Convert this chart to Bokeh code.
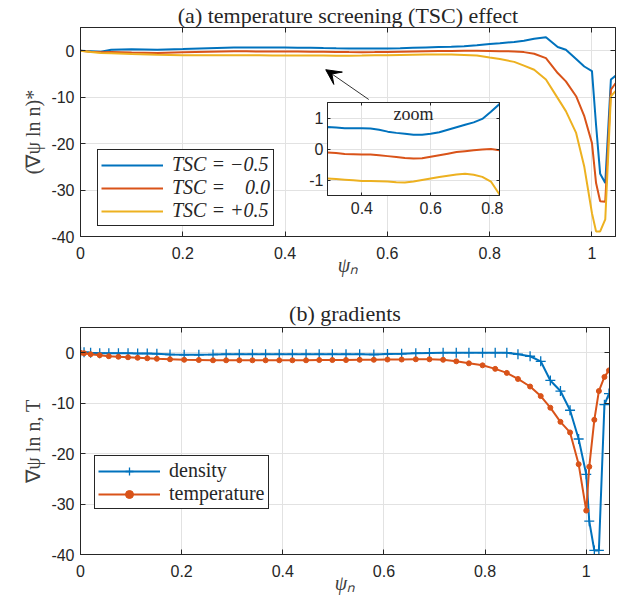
from bokeh.plotting import figure
from bokeh.layouts import column
from bokeh.models import (Range1d, LinearAxis, FixedTicker, Legend, LegendItem,
                          Arrow, VeeHead, Label)
from bokeh.embed import file_html
from bokeh.resources import INLINE

# ---------------- data ----------------
psi_a = [0, 0.02, 0.04, 0.06, 0.1, 0.15, 0.2, 0.25,
         0.3, 0.325, 0.35, 0.375, 0.4, 0.425, 0.45, 0.475, 0.5, 0.525, 0.55, 0.575,
         0.6, 0.625, 0.65, 0.675, 0.7, 0.725, 0.75, 0.775, 0.8,
         0.82, 0.848, 0.867, 0.887, 0.91, 0.933, 0.949, 0.969, 0.985,
         1.0, 1.008, 1.016, 1.026, 1.037, 1.046]
tsc_m05 = [0, -0.1, -0.2, 0.2, 0.3, 0.2, 0.35, 0.55,
           0.71, 0.69, 0.67, 0.67, 0.67, 0.66, 0.62, 0.56, 0.52, 0.49, 0.46, 0.46,
           0.49, 0.54, 0.62, 0.70, 0.78, 0.86, 0.97, 1.2, 1.45,
           1.6, 1.9, 2.15, 2.6, 2.9, 0.8, 0.2, -1.8, -3.4,
           -4.4, -16.0, -26.5, -28.5, -6.2, -5.4]
tsc_0 = [0, -0.2, -0.35, -0.3, -0.4, -0.5, -0.35, -0.2,
         -0.11, -0.13, -0.16, -0.17, -0.18, -0.18, -0.2, -0.23, -0.26, -0.29, -0.31, -0.3,
         -0.25, -0.2, -0.15, -0.1, -0.07, -0.04, -0.02, 0.0, -0.04,
         -0.1, -0.15, -0.3, -0.65, -1.6, -4.8, -6.6, -9.8, -14.1,
         -19.9, -28.5, -32.4, -32.5, -8.4, -7.0]
tsc_p05 = [0, -0.3, -0.5, -0.55, -0.7, -0.85, -0.95, -0.95,
           -0.95, -0.97, -0.99, -1.01, -1.03, -1.03, -1.04, -1.05, -1.07, -1.08, -1.05, -1.0,
           -0.95, -0.9, -0.86, -0.82, -0.8, -0.83, -0.9, -1.05, -1.47,
           -1.8, -2.4, -3.2, -4.1, -6.2, -10.2, -13.0, -17.7, -25.0,
           -35.0, -38.9, -38.9, -36.3, -9.8, -8.7]

psi_b = [0, 0.007, 0.02, 0.038, 0.056, 0.075, 0.094, 0.113, 0.132, 0.151,
         0.177, 0.205, 0.234, 0.262, 0.288, 0.314, 0.34, 0.366, 0.393, 0.419,
         0.446, 0.472, 0.498, 0.525, 0.552, 0.58, 0.607, 0.635, 0.663, 0.69,
         0.717, 0.743, 0.768, 0.795, 0.82, 0.843, 0.865, 0.889, 0.91, 0.929,
         0.949, 0.968, 0.985, 1.0, 1.006, 1.016, 1.025, 1.036, 1.045]
grad_n = [0.2, 0.1, 0, -0.1, -0.1, -0.1, -0.1, -0.15, -0.15, -0.2,
          -0.35, -0.4, -0.4, -0.35, -0.3, -0.3, -0.3, -0.3, -0.3, -0.3,
          -0.3, -0.3, -0.3, -0.3, -0.3, -0.35, -0.25, -0.2, -0.1, -0.05,
          0, 0, 0, 0, 0, 0, -0.3, -0.7, -1.7, -5.5,
          -7.6, -11.4, -17.1, -24.1, -33.4, -39.2, -39.2, -10.3, -8.1]
grad_T = [0, -0.1, -0.3, -0.5, -0.7, -0.8, -0.9, -1.0, -1.1, -1.2,
          -1.3, -1.4, -1.45, -1.5, -1.5, -1.5, -1.5, -1.5, -1.5, -1.5,
          -1.5, -1.45, -1.45, -1.45, -1.4, -1.4, -1.35, -1.35, -1.3, -1.3,
          -1.4, -1.7, -2.1, -2.5, -3.2, -4.0, -5.2, -6.7, -8.6, -10.9,
          -13.7, -15.8, -22.1, -31.3, -22.6, -13.3, -7.6, -4.8, -3.5]

x_ticks = [0, 0.2, 0.4, 0.6, 0.8, 1]
x_tick_labels = ["0", "0.2", "0.4", "0.6", "0.8", "1"]
y_ticks = [-40, -30, -20, -10, 0]
y_tick_labels = ["-40", "-30", "-20", "-10", "0"]
in_x_ticks = [0.4, 0.6, 0.8]
in_x_tick_labels = ["0.4", "0.6", "0.8"]
in_y_ticks = [-1, 0, 1]
in_y_tick_labels = ["-1", "0", "1"]

series_a_labels = ["TSC = \u22120.5", "TSC = \u00a0\u00a0\u00a00.0", "TSC = +0.5"]
series_b_labels = ["density", "temperature"]
arrow_tail = (0.5636, -10.5)
arrow_head = (0.4795, -4.09)

# ---------------- style ----------------
BLUE = "#0072BD"
RED = "#D95319"
YEL = "#EDB120"
AX = "#262626"
GRID = "#e2e2e2"
LAB = "#404040"


def style_axes(p, xt, xl, yt, yl, tick_in, xs, ys):
    p.xaxis.ticker = FixedTicker(ticks=xt)
    p.yaxis.ticker = FixedTicker(ticks=yt)
    p.xgrid.ticker = FixedTicker(ticks=xt)
    p.ygrid.ticker = FixedTicker(ticks=yt)
    p.xaxis.major_label_overrides = dict(zip(xt, xl))
    p.yaxis.major_label_overrides = dict(zip(yt, yl))
    for ax in list(p.xaxis) + list(p.yaxis):
        ax.major_tick_in = tick_in
        ax.major_tick_out = 0
        ax.minor_tick_in = 0
        ax.minor_tick_out = 0
        ax.major_tick_line_color = AX
        ax.axis_line_color = AX
        ax.major_label_text_font = "Liberation Sans"
        ax.major_label_text_font_size = "16px"
        ax.major_label_text_color = AX
    p.xaxis.major_label_standoff = xs
    p.yaxis.major_label_standoff = ys
    p.grid.grid_line_color = GRID
    p.grid.grid_line_width = 1
    p.outline_line_color = AX
    p.outline_line_alpha = 1
    p.outline_line_width = 1
    p.background_fill_color = "white"
    for side, ticks in (("above", xt), ("right", yt)):
        a = LinearAxis(ticker=FixedTicker(ticks=ticks))
        a.major_label_overrides = {t: "" for t in ticks}
        a.major_label_text_font_size = "0px"
        a.major_label_standoff = 0
        a.major_tick_in = tick_in
        a.major_tick_out = 0
        a.minor_tick_in = 0
        a.minor_tick_out = 0
        a.major_tick_line_color = AX
        a.axis_line_color = AX
        p.add_layout(a, side)


def set_title(p, text, standoff):
    p.title.text = text
    p.title.align = "center"
    p.title.text_font = "Liberation Serif"
    p.title.text_font_size = "22px"
    p.title.text_font_style = "normal"
    p.title.text_color = AX
    p.title.standoff = standoff


def set_labels(p, xlab, ylab):
    xa = p.below[0]
    ya = p.left[0]
    xa.axis_label = xlab
    xa.axis_label_text_font = "Liberation Serif"
    xa.axis_label_text_font_size = "20px"
    xa.axis_label_text_font_style = "italic"
    xa.axis_label_text_color = LAB
    xa.axis_label_standoff = -8
    ya.axis_label = ylab
    ya.axis_label_text_font = "Liberation Serif"
    ya.axis_label_text_font_size = "20px"
    ya.axis_label_text_font_style = "normal"
    ya.axis_label_text_color = LAB
    ya.axis_label_standoff = 4


def style_legend(leg, italic):
    leg.label_text_font = "Liberation Serif"
    leg.label_text_font_size = "20px"
    leg.label_text_font_style = "italic" if italic else "normal"
    leg.label_text_color = AX
    leg.glyph_width = 62
    leg.glyph_height = 20
    leg.label_height = 20
    leg.label_standoff = 9
    leg.padding = 3
    leg.spacing = 0
    leg.margin = 0
    leg.border_line_color = AX
    leg.border_line_width = 1
    leg.border_line_alpha = 1
    leg.background_fill_alpha = 1


# ---------------- panel (a) ----------------
p1 = figure(output_backend="svg", toolbar_location=None,
            frame_width=535, frame_height=209,
            x_range=Range1d(0, 1.046), y_range=Range1d(-40, 5),
            min_border_left=80, min_border_right=10, min_border_top=0,
            min_border_bottom=0)
style_axes(p1, x_ticks, x_tick_labels, y_ticks, y_tick_labels, 5, 10, 6)
set_title(p1, "(a) temperature screening (TSC) effect", 0)
set_labels(p1, "\u03c8\u2099", "(\u2207\u03c8 ln n)*")

ra1 = p1.line(psi_a, tsc_m05, line_color=BLUE, line_width=2)
ra2 = p1.line(psi_a, tsc_0, line_color=RED, line_width=2)
ra3 = p1.line(psi_a, tsc_p05, line_color=YEL, line_width=2)

leg1 = Legend(items=[LegendItem(label=series_a_labels[0], renderers=[ra1]),
                     LegendItem(label=series_a_labels[1], renderers=[ra2]),
                     LegendItem(label=series_a_labels[2], renderers=[ra3])],
              location=(17, 10))
style_legend(leg1, True)
p1.add_layout(leg1)

p1.add_layout(Arrow(end=VeeHead(size=15, fill_color="black", line_color="black"),
                    x_start=arrow_tail[0], y_start=arrow_tail[1],
                    x_end=arrow_head[0], y_end=arrow_head[1],
                    line_color="#333333", line_width=1))

# ---------------- panel (b) ----------------
p2 = figure(output_backend="svg", toolbar_location=None,
            frame_width=529, frame_height=227,
            x_range=Range1d(0, 1.046), y_range=Range1d(-40, 5),
            min_border_left=80, min_border_right=16, min_border_top=49,
            min_border_bottom=0)
style_axes(p2, x_ticks, x_tick_labels, y_ticks, y_tick_labels, 5, 10, 6)
set_title(p2, "(b) gradients", 4)
set_labels(p2, "\u03c8\u2099", "\u2207\u03c8 ln n, T")

rb1l = p2.line(psi_b, grad_n, line_color=BLUE, line_width=2)
rb1m = p2.scatter(psi_b, grad_n, marker="cross", size=10, line_color=BLUE, line_width=1.3)
rb2l = p2.line(psi_b, grad_T, line_color=RED, line_width=2)
rb2m = p2.scatter(psi_b, grad_T, marker="circle", size=5, fill_color=RED, line_color=RED)

leg2 = Legend(items=[LegendItem(label=series_b_labels[0], renderers=[rb1l, rb1m]),
                     LegendItem(label=series_b_labels[1], renderers=[rb2l, rb2m])],
              location=(14, 45))
style_legend(leg2, False)
p2.add_layout(leg2)

main = column(p1, p2, spacing=0)

# ---------------- inset: separate root, absolutely placed over panel (a) ----------------
IN_L, IN_T = 287, 98
pin = figure(output_backend="svg", toolbar_location=None,
             frame_width=172, frame_height=93,
             x_range=Range1d(0.3, 0.8), y_range=Range1d(-1.5, 1.5),
             min_border_left=40, min_border_right=4, min_border_top=4,
             min_border_bottom=30, border_fill_color=None,
             styles={"position": "absolute", "left": f"{IN_L}px", "top": f"{IN_T}px",
                     "z-index": "10"})
style_axes(pin, in_x_ticks, in_x_tick_labels, in_y_ticks, in_y_tick_labels, 3, 6, 4)
pin.line(psi_a, tsc_m05, line_color=BLUE, line_width=2)
pin.line(psi_a, tsc_0, line_color=RED, line_width=2)
pin.line(psi_a, tsc_p05, line_color=YEL, line_width=2)
pin.add_layout(Label(x=0.55, y=1.5, text="zoom", text_align="center",
                     text_baseline="top", y_offset=-1,
                     text_font="Liberation Serif", text_font_size="18px",
                     text_color=AX))

open("out.html", "w").write(file_html([main, pin], INLINE))
